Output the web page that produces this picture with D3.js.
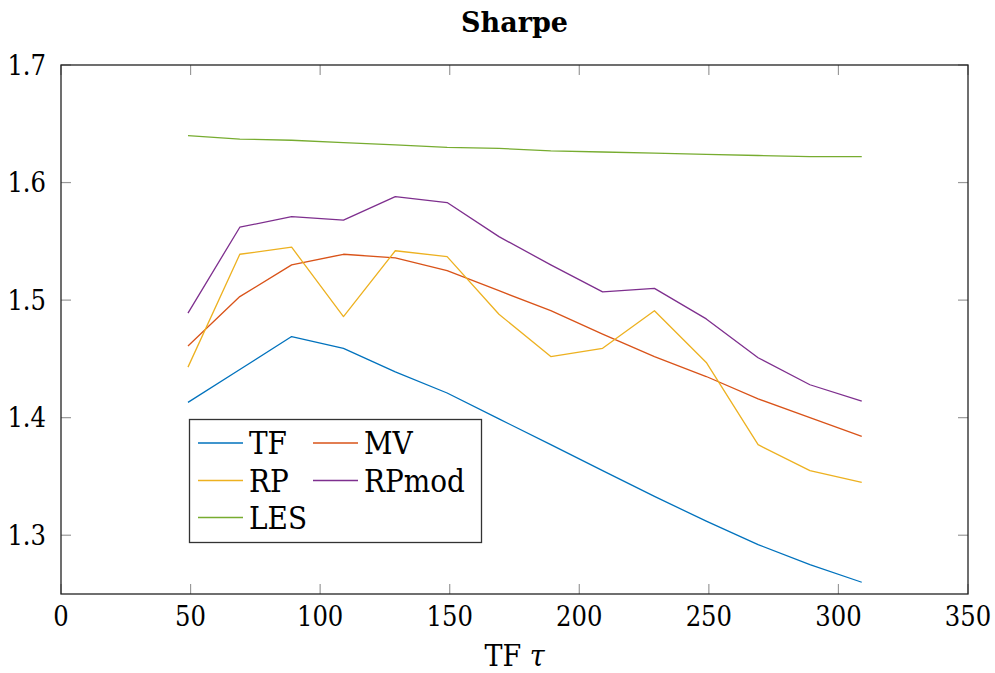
<!DOCTYPE html>
<html>
<head>
<meta charset="utf-8">
<script src="https://cdn.jsdelivr.net/npm/d3@7"></script>
<style>
  html, body { margin: 0; padding: 0; background: #fff; }
</style>
</head>
<body>
<svg id="chart" width="995" height="673"></svg>
<script>
const xValues = [49, 69, 89, 109, 129, 149, 169, 189, 209, 229, 249, 269, 289, 309];
const seriesNames = ["TF", "MV", "RP", "RPmod", "LES"];
const TF    = [1.413, 1.441, 1.469, 1.459, 1.439, 1.421, 1.399, 1.377, 1.355, 1.333, 1.312, 1.292, 1.275, 1.260];
const MV    = [1.461, 1.503, 1.530, 1.539, 1.536, 1.525, 1.508, 1.491, 1.471, 1.452, 1.435, 1.416, 1.400, 1.384];
const RP    = [1.443, 1.539, 1.545, 1.486, 1.542, 1.537, 1.488, 1.452, 1.459, 1.491, 1.447, 1.377, 1.355, 1.345];
const RPmod = [1.489, 1.562, 1.571, 1.568, 1.588, 1.583, 1.554, 1.530, 1.507, 1.510, 1.484, 1.451, 1.428, 1.414];
const LES   = [1.640, 1.637, 1.636, 1.634, 1.632, 1.630, 1.629, 1.627, 1.626, 1.625, 1.624, 1.623, 1.622, 1.622];
const colors = ["#0072BD", "#D95319", "#EDB120", "#7E2F8E", "#77AC30"];
const xTicks = [0, 50, 100, 150, 200, 250, 300, 350];
const yTicks = [1.3, 1.4, 1.5, 1.6, 1.7];
const title = "Sharpe";

const seriesValues = [TF, MV, RP, RPmod, LES];
const FONT = "DejaVu Serif";

const svg = d3.select("#chart");
const L = 61, R = 968, T = 65, B = 594;
const x = d3.scaleLinear().domain([0, 350]).range([L, R]);
const y = d3.scaleLinear().domain([1.25, 1.7]).range([B, T]);

const tickLen = 10;
const tickColor = "#999";
const gx = svg.append("g");
xTicks.forEach(t => {
  gx.append("line").attr("x1", x(t)).attr("x2", x(t)).attr("y1", B).attr("y2", B - tickLen)
    .attr("stroke", tickColor).attr("stroke-width", 1.2);
  gx.append("line").attr("x1", x(t)).attr("x2", x(t)).attr("y1", T).attr("y2", T + tickLen)
    .attr("stroke", tickColor).attr("stroke-width", 1.2);
  gx.append("text").attr("x", x(t)).attr("y", 626).attr("text-anchor", "middle")
    .style("font-family", FONT).style("font-stretch", "condensed").attr("font-size", 27).text(t);
});
yTicks.forEach(t => {
  gx.append("line").attr("x1", L).attr("x2", L + tickLen).attr("y1", y(t)).attr("y2", y(t))
    .attr("stroke", tickColor).attr("stroke-width", 1.2);
  gx.append("line").attr("x1", R).attr("x2", R - tickLen).attr("y1", y(t)).attr("y2", y(t))
    .attr("stroke", tickColor).attr("stroke-width", 1.2);
  gx.append("text").attr("x", 46).attr("y", y(t)).attr("dy", "0.36em").attr("text-anchor", "end")
    .style("font-family", FONT).style("font-stretch", "condensed").attr("font-size", 27).text(d3.format(".1f")(t));
});

const line = d3.line().x((d, i) => x(xValues[i])).y(d => y(d));
seriesValues.forEach((vals, k) => {
  svg.append("path").datum(vals).attr("d", line)
    .attr("fill", "none").attr("stroke", colors[k]).attr("stroke-width", 1.3)
    .attr("stroke-linejoin", "round");
});

svg.append("rect").attr("x", L).attr("y", T).attr("width", R - L).attr("height", B - T)
  .attr("fill", "none").attr("stroke", "#222").attr("stroke-width", 1.3);

svg.append("text").attr("x", (L + R) / 2).attr("y", 32).attr("text-anchor", "middle")
  .style("font-family", FONT).attr("font-size", 27).attr("font-weight", "bold")
  .text(title);

const xl = svg.append("text").attr("x", (L + R) / 2).attr("y", 666).attr("text-anchor", "middle")
  .style("font-family", FONT).style("font-stretch", "condensed").attr("font-size", 30);
xl.append("tspan").text("TF ");
xl.append("tspan").attr("font-style", "italic").text("τ");

const lg = svg.append("g");
lg.append("rect").attr("x", 189.5).attr("y", 419.5).attr("width", 292).attr("height", 123)
  .attr("fill", "#fff").attr("stroke", "#333").attr("stroke-width", 1.3);
const colX = [198, 313];
const rowY = [443, 480.5, 517.5];
seriesNames.forEach((name, i) => {
  const cx = colX[i % 2], cy = rowY[Math.floor(i / 2)];
  lg.append("line").attr("x1", cx).attr("x2", cx + 45).attr("y1", cy).attr("y2", cy)
    .attr("stroke", colors[i]).attr("stroke-width", 1.3);
  lg.append("text").attr("x", cx + 51).attr("y", cy).attr("dy", "0.36em")
    .style("font-family", FONT).style("font-stretch", "condensed").attr("font-size", 31).text(name);
});
</script>
</body>
</html>
